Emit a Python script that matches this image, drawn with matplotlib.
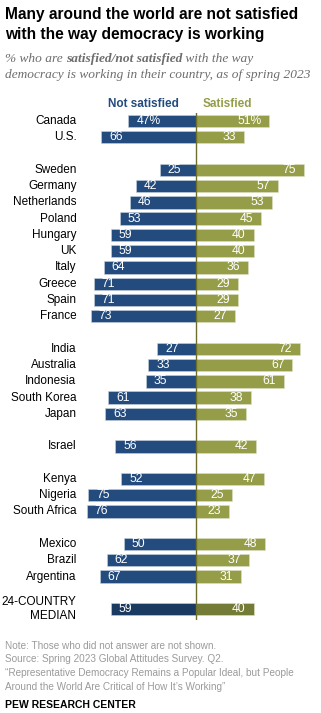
import matplotlib.pyplot as plt
import numpy as np

countries = ['Canada', 'U.S.',
             'Sweden', 'Germany', 'Netherlands', 'Poland', 'Hungary', 'UK', 'Italy', 'Greece', 'Spain', 'France',
             'India', 'Australia', 'Indonesia', 'South Korea', 'Japan',
             'Israel',
             'Kenya', 'Nigeria', 'South Africa',
             'Mexico', 'Brazil', 'Argentina',
             '24-COUNTRY\nMEDIAN']
not_satisfied = [47, 66, 25, 42, 46, 53, 59, 59, 64, 71, 71, 73,
                 27, 33, 35, 61, 63, 56, 52, 75, 76, 50, 62, 67, 59]
satisfied = [51, 33, 75, 57, 53, 45, 40, 40, 36, 29, 29, 27,
             72, 67, 61, 38, 35, 42, 47, 25, 23, 48, 37, 31, 40]
group_sizes = [2, 10, 5, 1, 3, 3, 1]

W, H = 321, 713
NAVY, OLIVE = '#234b7d', '#959d49'
NAVY_D, OLIVE_D = '#1b3a62', '#747b37'

# row slots with a blank slot between groups
pos = []
s = 0
for g in group_sizes:
    for i in range(g):
        pos.append(s)
        s += 1
    s += 1
pos = np.array(pos)

fig = plt.figure(figsize=(W / 100, H / 100), dpi=100)
plt.rcParams['font.family'] = ['Liberation Sans', 'DejaVu Sans']

def px(x, y):
    return x / W, 1 - y / H

# bar axes: zero at x=196px, 1.44 px per point
x0, x1 = 75, 321
top, bot = 113, 620
ax = fig.add_axes([x0 / W, 1 - bot / H, (x1 - x0) / W, (bot - top) / H])
ax.set_xlim(-(196 - x0) / 1.44, (x1 - 196) / 1.44)
ax.set_ylim((bot - 121) / 16.27, -(121 - top) / 16.27)
ax.axis('off')

n = len(countries)
nav_c = [NAVY] * (n - 1) + [NAVY_D]
olv_c = [OLIVE] * (n - 1) + [OLIVE_D]
ax.barh(pos, [-v for v in not_satisfied], height=0.76, color=nav_c, edgecolor='#c9d3df', linewidth=0.4)
ax.barh(pos, satisfied, height=0.76, color=olv_c, edgecolor='#dfe2c6', linewidth=0.4)
ax.axvline(0, color='#6f6f2c', lw=1.0)

for i, (p, a, b) in enumerate(zip(pos, not_satisfied, satisfied)):
    la = f'{a}%' if i == 0 else str(a)
    lb = f'{b}%' if i == 0 else str(b)
    ax.text(-a + 5.5, p, la, ha='left', va='center', color='white', fontsize=8.7)
    ax.text(b - 5.5, p, lb, ha='right', va='center', color='white', fontsize=8.7)
    ax.text(-83, p, countries[i], ha='right', va='center', fontsize=8.5, color='black',
            clip_on=False, multialignment='right', linespacing=1.2)

# legend headers
fig.text(*px(143, 104), 'Not satisfied', ha='center', va='center', fontsize=8.5,
         fontweight='bold', color=NAVY)
fig.text(*px(227, 104), 'Satisfied', ha='center', va='center', fontsize=8.5,
         fontweight='bold', color=OLIVE)

# title
fig.text(*px(5, 14), 'Many around the world are not satisfied', ha='left', va='center',
         fontsize=11.2, fontweight='bold', color='black')
fig.text(*px(5, 34), 'with the way democracy is working', ha='left', va='center',
         fontsize=11.2, fontweight='bold', color='black')

# subtitle with mixed weights
r = fig.canvas.get_renderer()
sub_kw = dict(fontsize=9.6, style='italic', color='#6d6d6d', family='Liberation Serif', va='center')
xx = 5
for txt, wt in [('% who are ', 'normal'), ('satisfied/not satisfied', 'bold'), (' with the way', 'normal')]:
    t = fig.text(*px(xx, 59), txt, ha='left', fontweight=wt, **sub_kw)
    xx = t.get_window_extent(r).x1
fig.text(*px(5, 75), 'democracy is working in their country, as of spring 2023', ha='left', **sub_kw)

# footer
foot = ['Note: Those who did not answer are not shown.',
        'Source: Spring 2023 Global Attitudes Survey. Q2.',
        '\u201cRepresentative Democracy Remains a Popular Ideal, but People',
        'Around the World Are Critical of How It\u2019s Working\u201d']
for k, line in enumerate(foot):
    fig.text(*px(5, 646 + 13.5 * k), line, ha='left', va='center', fontsize=7.2, color='#9a9a9a')
fig.text(*px(5, 705), 'PEW RESEARCH CENTER', ha='left', va='center', fontsize=7.5,
         fontweight='bold', color='black')

fig.savefig('out.png', dpi=100)
